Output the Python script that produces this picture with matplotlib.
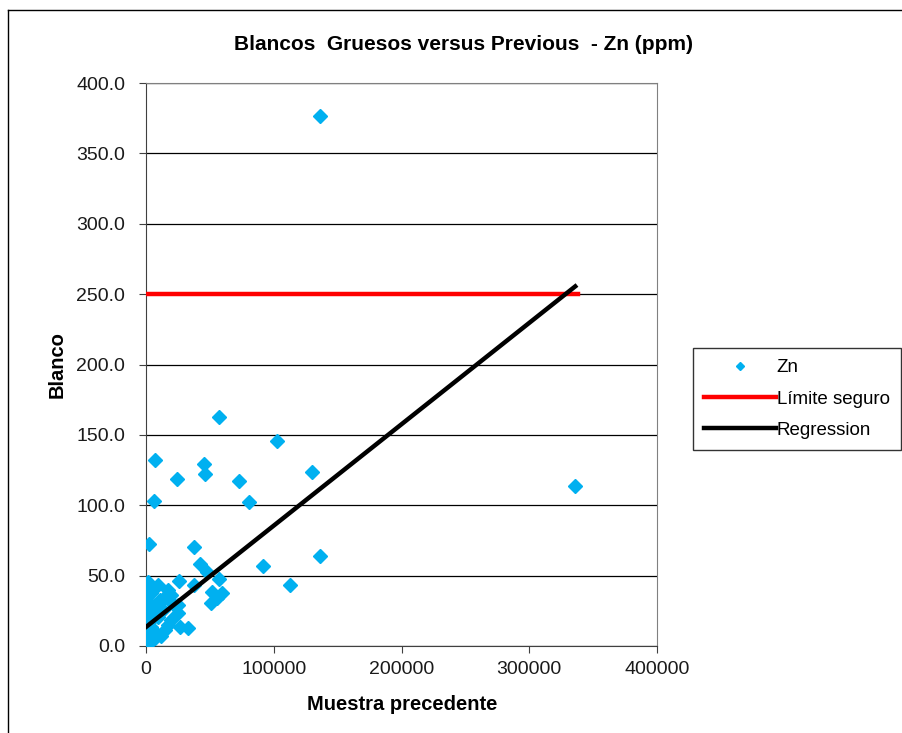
import numpy as np
import matplotlib.pyplot as plt
from matplotlib.lines import Line2D

plt.rcParams['font.family'] = ['Liberation Sans', 'DejaVu Sans']

# previous sample (x) vs blank (y), Zn ppm
prev = [136200, 57100, 102300, 7000, 45600, 46400, 24000, 130200, 73000, 80600,
        6300, 335800, 2100, 37300, 91600, 136200, 112500, 42500, 47500, 57400,
        26100, 37600, 51400, 59300, 55800, 50900,
        1600, 9400, 17200, 14600, 19800, 9400, 25000, 25000, 19800, 17200,
        26400, 32900, 14600, 9400, 13300, 4100, 5500, 4100, 6800,
        300, 800, 500, 1200, 200, 900, 1500, 400, 700, 1000, 300, 600, 2500,
        200, 1100, 3000, 500, 800, 2000, 11000, 7500, 21500, 3500, 12000]
blanco = [376.6, 162.7, 145.9, 132.2, 129.1, 122.2, 118.4, 123.4, 117.0, 102.3,
          103.2, 113.7, 72.3, 70.3, 57.1, 64.2, 43.6, 58.3, 52.8, 47.6,
          46.0, 43.6, 38.6, 37.4, 33.9, 30.3,
          45.7, 43.3, 39.8, 35.0, 36.2, 30.3, 29.1, 23.2, 18.5, 14.9,
          13.7, 12.6, 11.4, 20.8, 25.6, 37.4, 25.6, 13.7, 5.5,
          42.0, 38.0, 34.5, 31.0, 28.0, 25.0, 22.0, 19.5, 17.0, 15.0, 12.0, 9.5, 8.0,
          6.0, 4.0, 2.5, 1.0, 3.0, 27.0, 33.0, 9.0, 30.0, 18.0, 7.0]

limite_x = [0, 338000]
limite_y = [250, 250]
reg_x = [0, 336000]
reg_y = [13.5, 255.5]

yticks = np.arange(0, 401, 50)
xticks = [0, 100000, 200000, 300000, 400000]

fig = plt.figure(figsize=(9.02, 7.33), dpi=100)
ax = fig.add_axes([146 / 902, 1 - 646 / 733, 511 / 902, 563 / 733])

ax.plot(prev, blanco, linestyle='none', marker='D', markersize=7,
        color='#00B0F0', label='Zn', zorder=3)
ax.plot(limite_x, limite_y, color='#FF0000', lw=3.2, label='Límite seguro', zorder=4)
ax.plot(reg_x, reg_y, color='black', lw=3.2, label='Regression', zorder=5)

ax.set_xlim(0, 400000)
ax.set_ylim(0, 400)
ax.set_yticks(yticks)
ax.set_yticklabels(['%.1f' % v for v in yticks])
ax.set_xticks(xticks)
ax.set_xticklabels([str(v) for v in xticks])
ax.tick_params(labelsize=14, direction='out', length=5, color='#404040',
               labelcolor='#1a1a1a')
ax.tick_params(axis='y', pad=10)
ax.tick_params(axis='x', pad=6)
ax.yaxis.grid(True, color='black', lw=0.9)
ax.set_axisbelow(True)
for s in ['left', 'bottom']:
    ax.spines[s].set_color('#404040')
for s in ['top', 'right']:
    ax.spines[s].set_color('#808080')

fig.text(463 / 902, 1 - 45 / 733, 'Blancos  Gruesos versus Previous  - Zn (ppm)',
         fontsize=15, fontweight='bold', ha='center', va='center')
ax.set_xlabel('Muestra precedente', fontsize=14.5, fontweight='bold')
ax.set_ylabel('Blanco', fontsize=14.5, fontweight='bold')
ax.xaxis.set_label_coords((402 - 146) / 511, (646 - 705) / 563)
ax.yaxis.set_label_coords((57 - 146) / 511, 0.5)
ax.xaxis.label.set_va('center')
ax.yaxis.label.set_va('center')

leg = fig.legend(loc='center', bbox_to_anchor=(797 / 902, 1 - 399 / 733),
                 fontsize=13.5, frameon=True, fancybox=False, edgecolor='black',
                 handlelength=3.8, handletextpad=0.05, borderpad=0.6,
                 labelspacing=0.75, markerscale=0.6, borderaxespad=0)
leg.get_frame().set_linewidth(1.0)

# outer chart border
fig.add_artist(Line2D([8 / 902, 8 / 902], [0, 1 - 10 / 733], color='black', lw=1))
fig.add_artist(Line2D([8 / 902, 1], [1 - 10 / 733, 1 - 10 / 733], color='black', lw=1))

fig.savefig('out.png', dpi=100)
